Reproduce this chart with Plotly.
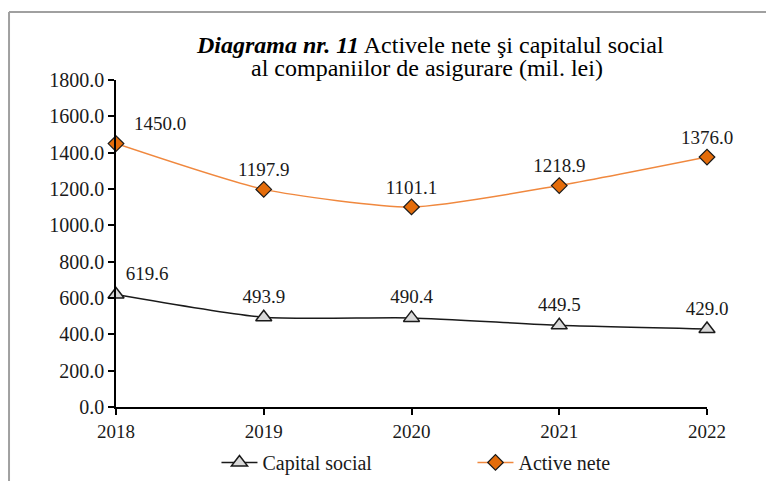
import plotly.graph_objects as go

years = [2018, 2019, 2020, 2021, 2022]
capital_social = [619.6, 493.9, 490.4, 449.5, 429.0]
active_nete = [1450.0, 1197.9, 1101.1, 1218.9, 1376.0]
y_ticks = [0, 200, 400, 600, 800, 1000, 1200, 1400, 1600, 1800]

FONT = "Liberation Serif"

def labels(vals):
    return [f"{v:.1f}" for v in vals]

fig = go.Figure()
fig.add_trace(go.Scatter(
    x=years, y=capital_social, name="Capital social",
    mode="lines+markers+text",
    line=dict(color="#1a1a1a", width=1.5, shape="spline", smoothing=0.6),
    marker=dict(symbol="triangle-up", size=14, color="#d9d9d9",
                line=dict(color="#1a1a1a", width=1.5)),
    text=labels(capital_social),
    textposition=["top right", "top center", "top center", "top center", "top center"],
    textfont=dict(family=FONT, size=19, color="#1a1a1a"),
    cliponaxis=False,
))
fig.add_trace(go.Scatter(
    x=years, y=active_nete, name="Active nete",
    mode="lines+markers+text",
    line=dict(color="#f0883e", width=1.5, shape="spline", smoothing=0.6),
    marker=dict(symbol="diamond", size=12, color="#e46c0a",
                line=dict(color="#1a1a1a", width=1.2)),
    text=["\u2002" + t if i == 0 else t for i, t in enumerate(labels(active_nete))],
    textposition=["top right", "top center", "top center", "top center", "top center"],
    textfont=dict(family=FONT, size=19, color="#1a1a1a"),
    cliponaxis=False,
))

fig.update_layout(
    width=766, height=473,
    margin=dict(l=108, r=67, t=72, b=74, autoexpand=False),
    paper_bgcolor="white", plot_bgcolor="white",
    font=dict(family=FONT, size=19, color="#1a1a1a"),
    showlegend=True,
    legend=dict(orientation="h", x=0.17, xanchor="left", y=-0.11, yanchor="top",
                font=dict(family=FONT, size=20), entrywidth=205,
                itemwidth=36, bgcolor="rgba(0,0,0,0)"),
    annotations=[
        dict(x=0.531, y=1.107, xref="paper", yref="paper", xanchor="center", yanchor="middle",
             text="<b><i>Diagrama nr. 11</i></b> Activele nete şi capitalul social",
             showarrow=False, font=dict(family=FONT, size=24, color="black")),
        dict(x=0.526, y=1.037, xref="paper", yref="paper", xanchor="center", yanchor="middle",
             text="al companiilor de asigurare (mil. lei)",
             showarrow=False, font=dict(family=FONT, size=24, color="black")),
    ],
)
fig.add_shape(type="line", xref="paper", yref="paper", x0=-0.181, x1=1.12, y0=1.208, y1=1.208,
              line=dict(color="#a0a0a0", width=2))
fig.add_shape(type="line", xref="paper", yref="paper", x0=-0.181, x1=-0.181, y0=-0.226, y1=1.208,
              line=dict(color="#a0a0a0", width=2))

fig.update_xaxes(
    range=[2018, 2022], tickvals=years, ticktext=[str(y) for y in years],
    showline=True, linecolor="black", linewidth=1.5,
    ticks="outside", ticklen=6, tickcolor="black", tickwidth=1.5,
    showgrid=False, zeroline=False,
    tickfont=dict(family=FONT, size=19),
)
fig.update_yaxes(
    range=[0, 1800], tickvals=y_ticks, ticktext=[f"{v:.1f}" for v in y_ticks],
    showline=True, linecolor="black", linewidth=1.5,
    ticks="outside", ticklen=6, tickcolor="black", tickwidth=1.5,
    showgrid=False, zeroline=False,
    tickfont=dict(family=FONT, size=20),
)

fig.write_html("out.html")
